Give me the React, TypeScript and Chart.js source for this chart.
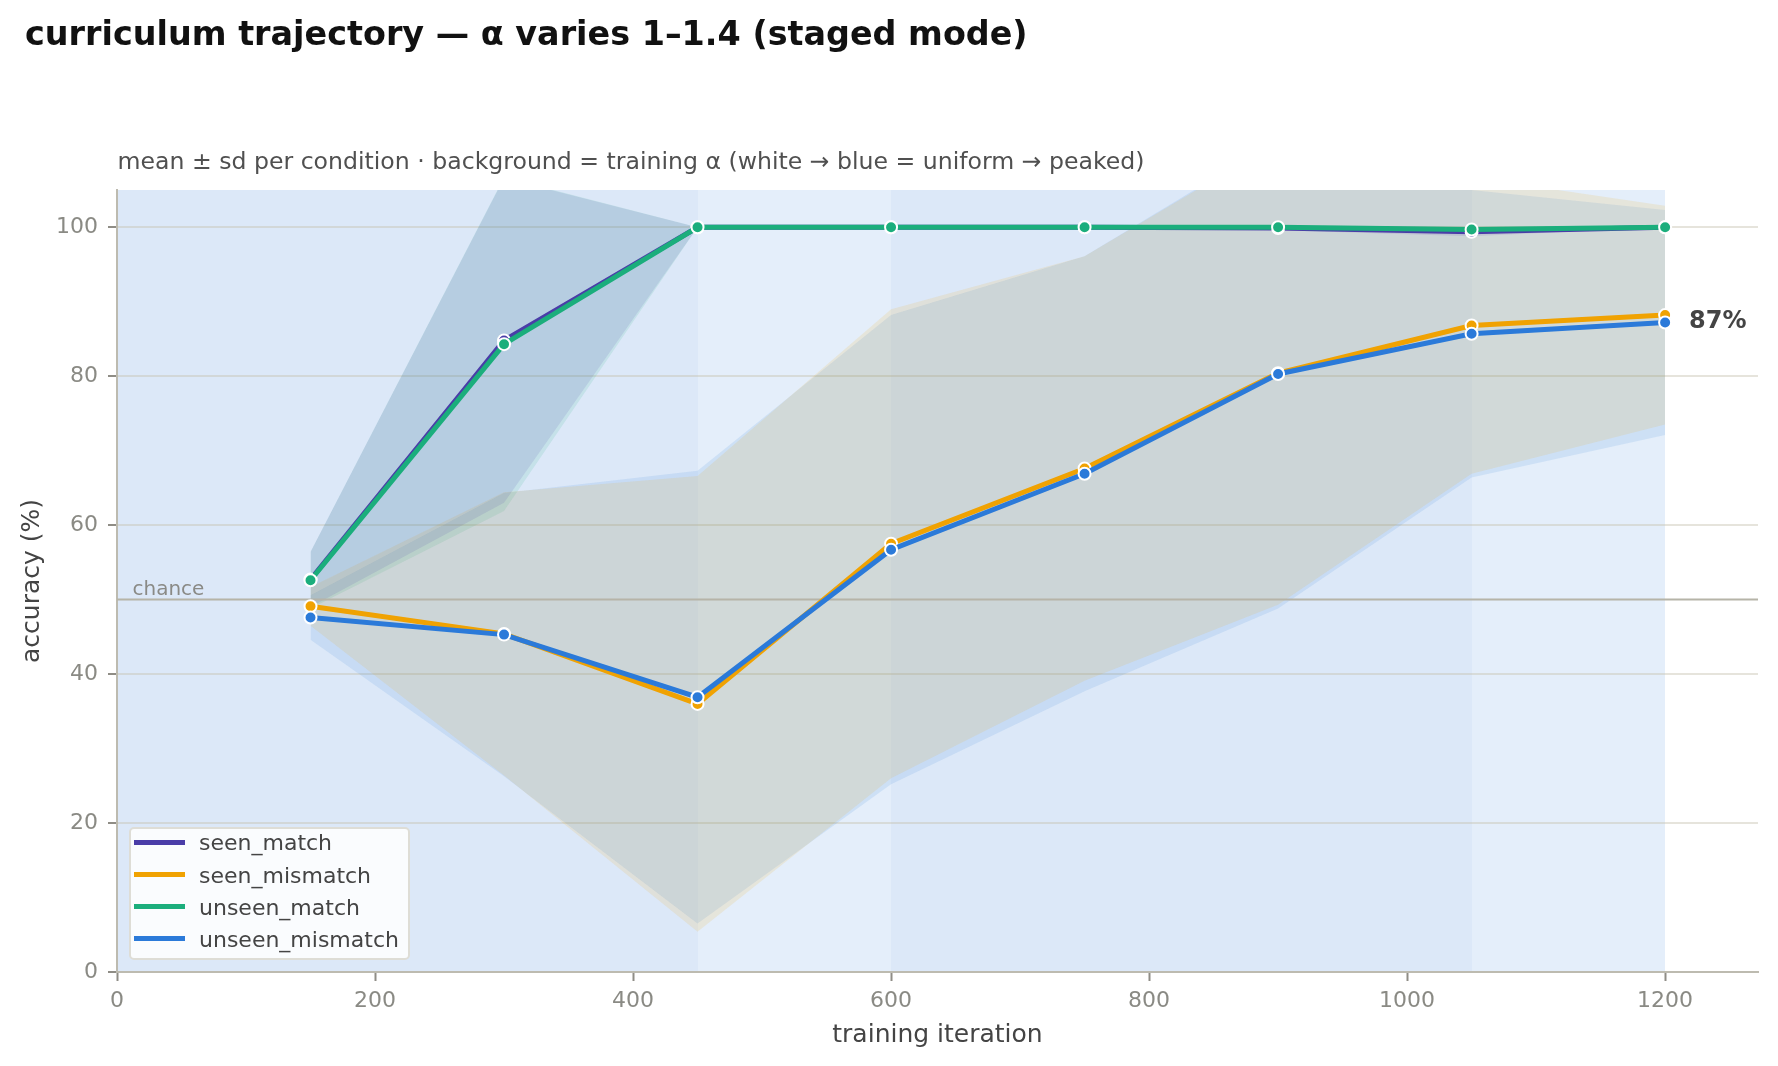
import React, { useEffect, useRef } from 'react';
import { Chart, registerables } from 'chart.js';

Chart.register(...registerables);

const FONT = '"DejaVu Sans", sans-serif';
Chart.defaults.font.family = FONT;

// checkpoints (training iteration)
const ITERATIONS = [150, 300, 450, 600, 750, 900, 1050, 1200];

// accuracy (%) mean and sd per condition
const SEEN_MATCH = [52.7, 84.8, 100, 100, 100, 99.9, 99.4, 100];
const SEEN_MATCH_SD = [3.7, 21.8, 0, 0, 0, 0.3, 0.6, 0];
const SEEN_MISMATCH = [49.1, 45.4, 36.0, 57.5, 67.6, 80.4, 86.8, 88.2];
const SEEN_MISMATCH_SD = [2.6, 19.0, 30.6, 31.5, 28.5, 31.1, 19.9, 14.7];
const UNSEEN_MATCH = [52.6, 84.3, 100, 100, 100, 100, 99.7, 100];
const UNSEEN_MATCH_SD = [3.8, 22.4, 0, 0, 0, 0, 0.4, 0];
const UNSEEN_MISMATCH = [47.6, 45.3, 36.9, 56.7, 66.9, 80.3, 85.7, 87.2];
const UNSEEN_MISMATCH_SD = [3.0, 19.0, 30.4, 31.5, 29.2, 31.5, 19.3, 15.1];

// training alpha for the stage ending at each checkpoint
const STAGE_ALPHA = [1.4, 1.4, 1.4, 1.3, 1.4, 1.4, 1.4, 1.3];

const X_TICKS = [0, 200, 400, 600, 800, 1000, 1200];
const Y_TICKS = [0, 20, 40, 60, 80, 100];
const X_MAX = 1272;
const Y_MAX = 105;
const CHANCE = 50;

const SERIES = [
  { name: 'seen_match', mean: SEEN_MATCH, sd: SEEN_MATCH_SD, rgb: '74,61,168' },
  { name: 'seen_mismatch', mean: SEEN_MISMATCH, sd: SEEN_MISMATCH_SD, rgb: '240,162,2' },
  { name: 'unseen_match', mean: UNSEEN_MATCH, sd: UNSEEN_MATCH_SD, rgb: '27,174,124' },
  { name: 'unseen_mismatch', mean: UNSEEN_MISMATCH, sd: UNSEEN_MISMATCH_SD, rgb: '43,122,217' },
];

// white -> blue = uniform -> peaked
const alphaColor = (a: number) => `rgba(43,118,215,${(0.165 * (a - 1)) / 0.4})`;

const bandsPlugin = {
  id: 'alphaBands',
  beforeDraw(chart: any) {
    const { ctx, chartArea, scales } = chart;
    const x = scales.x;
    ctx.save();
    STAGE_ALPHA.forEach((a, i) => {
      const x0 = Math.round(x.getPixelForValue(i === 0 ? 0 : ITERATIONS[i - 1]));
      const x1 = Math.round(x.getPixelForValue(ITERATIONS[i]));
      ctx.fillStyle = alphaColor(a);
      ctx.fillRect(x0, chartArea.top, x1 - x0, chartArea.bottom - chartArea.top);
    });
    ctx.restore();
  },
};

const labelsPlugin = {
  id: 'extraLabels',
  afterDatasetsDraw(chart: any) {
    const { ctx, scales } = chart;
    const { x, y } = scales;
    ctx.save();
    ctx.font = `20px ${FONT}`;
    ctx.fillStyle = '#8a8a86';
    ctx.textAlign = 'left';
    ctx.textBaseline = 'alphabetic';
    ctx.fillText('chance', x.getPixelForValue(12), y.getPixelForValue(CHANCE) - 5);

    const last = UNSEEN_MISMATCH[UNSEEN_MISMATCH.length - 1];
    ctx.font = `bold 24px ${FONT}`;
    ctx.fillStyle = '#444';
    ctx.textBaseline = 'middle';
    ctx.fillText(
      `${Math.round(last)}%`,
      x.getPixelForValue(ITERATIONS[ITERATIONS.length - 1]) + 24,
      y.getPixelForValue(last) - 1
    );
    ctx.restore();
  },
};

const App: React.FC = () => {
  const canvasRef = useRef<HTMLCanvasElement>(null);

  useEffect(() => {
    if (!canvasRef.current) return;
    const datasets: any[] = [];

    // sd bands: upper edge, then lower edge filled to it
    SERIES.forEach(s => {
      datasets.push({
        label: `${s.name} upper`,
        data: ITERATIONS.map((it, j) => ({ x: it, y: s.mean[j] + s.sd[j] })),
        borderColor: 'rgba(0,0,0,0)',
        borderWidth: 0,
        pointRadius: 0,
        fill: false,
        order: 20,
      });
      datasets.push({
        label: `${s.name} lower`,
        data: ITERATIONS.map((it, j) => ({ x: it, y: s.mean[j] - s.sd[j] })),
        borderColor: 'rgba(0,0,0,0)',
        borderWidth: 0,
        pointRadius: 0,
        backgroundColor: `rgba(${s.rgb},0.12)`,
        fill: '-1',
        order: 20,
      });
    });

    datasets.push({
      label: 'chance',
      data: [{ x: 0, y: CHANCE }, { x: X_MAX, y: CHANCE }],
      borderColor: '#b6b4a8',
      borderWidth: 2,
      pointRadius: 0,
      fill: false,
      order: 10,
    });

    SERIES.forEach((s, i) => {
      datasets.push({
        label: s.name,
        data: ITERATIONS.map((it, j) => ({ x: it, y: s.mean[j] })),
        borderColor: `rgb(${s.rgb})`,
        backgroundColor: `rgb(${s.rgb})`,
        pointBackgroundColor: `rgb(${s.rgb})`,
        pointBorderColor: '#ffffff',
        pointBorderWidth: 2,
        pointRadius: 6,
        borderWidth: 5,
        fill: false,
        order: 4 - i,
      });
    });

    const chart = new Chart(canvasRef.current, {
      type: 'line',
      data: { datasets },
      options: {
        animation: false,
        responsive: false,
        layout: { padding: { top: 190, right: 20, left: 0, bottom: 0 } },
        plugins: {
          legend: { display: false },
          tooltip: { enabled: false },
          filler: { drawTime: 'beforeDatasetsDraw' },
        },
        scales: {
          x: {
            type: 'linear',
            min: 0,
            max: X_MAX,
            afterBuildTicks: (s: any) => {
              s.ticks = X_TICKS.map(v => ({ value: v }));
            },
            afterFit: (s: any) => {
              s.height = 94;
            },
            ticks: { color: '#8a8a84', font: { size: 22 }, padding: 7, callback: (v: any) => String(v) },
            grid: {
              drawOnChartArea: false,
              drawTicks: true,
              tickLength: 9,
              tickWidth: 2,
              tickColor: '#8f8d86',
            },
            border: { color: '#bdbbb0', width: 2 },
            title: {
              display: true,
              text: 'training iteration',
              color: '#444',
              font: { size: 25 },
              padding: { top: 0, bottom: 16 },
            },
          },
          y: {
            min: 0,
            max: Y_MAX,
            afterBuildTicks: (s: any) => {
              s.ticks = Y_TICKS.map(v => ({ value: v }));
            },
            afterFit: (s: any) => {
              s.width = 117;
            },
            ticks: { color: '#8a8a84', font: { size: 22 }, padding: 10, callback: (v: any) => String(v) },
            grid: {
              color: 'rgba(200,196,178,0.45)',
              lineWidth: 2,
              drawTicks: true,
              tickLength: 9,
              tickWidth: 2,
              tickColor: '#8f8d86',
            },
            border: { color: '#bdbbb0', width: 2 },
            title: {
              display: true,
              text: 'accuracy (%)',
              color: '#444',
              font: { size: 25 },
              padding: { top: 17, bottom: 0 },
            },
          },
        },
      },
      plugins: [bandsPlugin, labelsPlugin],
    } as any);

    return () => chart.destroy();
  }, []);

  return (
    <div style={{ position: 'absolute', left: 0, top: 0, width: 1778, height: 1066, overflow: 'hidden', background: '#fff', fontFamily: FONT }}>
      <canvas ref={canvasRef} width={1778} height={1066} style={{ position: 'absolute', left: 0, top: 0, width: 1778, height: 1066 }} />
      <div style={{ position: 'absolute', left: 25, top: 17, fontSize: 33.4, lineHeight: 1, fontWeight: 'bold', color: '#111', whiteSpace: 'nowrap' }}>
        curriculum trajectory — α varies 1–1.4 (staged mode)
      </div>
      <div style={{ position: 'absolute', left: 117.5, top: 149.5, fontSize: 23.6, lineHeight: 1, color: '#505050', whiteSpace: 'nowrap' }}>
        mean ± sd per condition · background = training α (white → blue = uniform → peaked)
      </div>
      <div
        style={{
          position: 'absolute',
          left: 129,
          top: 827,
          width: 281,
          height: 133,
          boxSizing: 'border-box',
          border: '2px solid #deddd6',
          borderRadius: 5,
          background: 'rgba(255,255,255,0.85)',
        }}
      >
        {SERIES.map((s, i) => {
          const cy = 13.3 + 32.2 * i;
          return (
            <React.Fragment key={s.name}>
              <div style={{ position: 'absolute', left: 3, top: cy - 2.5, width: 51, height: 5, background: `rgb(${s.rgb})` }} />
              <div style={{ position: 'absolute', left: 68, top: cy - 15, fontSize: 22, lineHeight: '32px', color: '#444', whiteSpace: 'nowrap' }}>
                {s.name}
              </div>
            </React.Fragment>
          );
        })}
      </div>
    </div>
  );
};

export default App;
